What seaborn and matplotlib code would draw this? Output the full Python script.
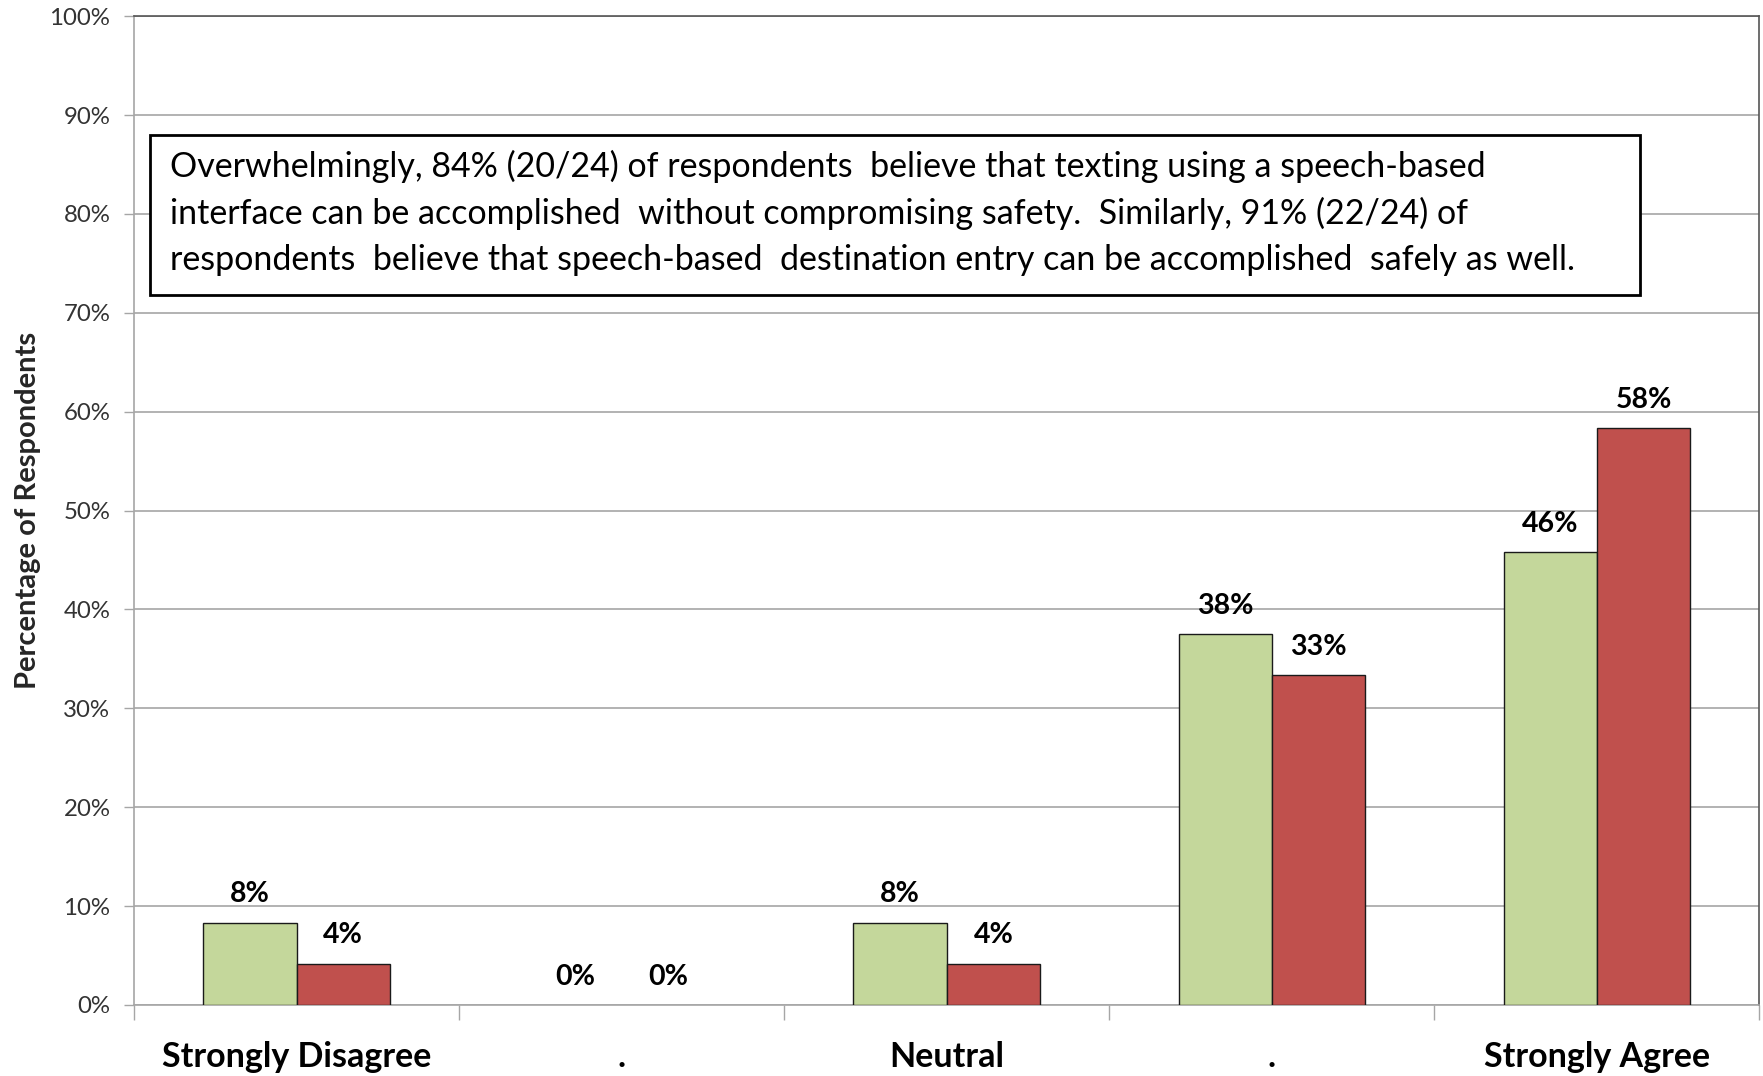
import matplotlib
matplotlib.use("Agg")
import matplotlib.pyplot as plt
import seaborn as sns
import pandas as pd
import numpy as np
from matplotlib.patches import Rectangle

# survey responses (24 respondents)
CATEGORIES = ["Strongly Disagree", "Disagree", "Neutral", "Agree", "Strongly Agree"]
TICK_LABELS = ["Strongly Disagree", ".", "Neutral", ".", "Strongly Agree"]
SERIES = ["Texting", "Destination Entry"]
TEXTING_PCT = [8.33, 0.0, 8.33, 37.5, 45.83]
DEST_ENTRY_PCT = [4.17, 0.0, 4.17, 33.33, 58.33]
Y_TICKS = [0, 10, 20, 30, 40, 50, 60, 70, 80, 90, 100]
NOTE = ("Overwhelmingly, 84% (20/24) of respondents  believe that texting using a speech-based\n"
        "interface can be accomplished  without compromising safety.  Similarly, 91% (22/24) of\n"
        "respondents  believe that speech-based  destination entry can be accomplished  safely as well.")

GREEN = "#C4D79B"
RED = "#C0504D"
GRID = "#A6A6A6"

sns.set_theme(style="white")
plt.rcParams["font.family"] = ["Lato", "DejaVu Sans"]

df = pd.DataFrame({
    "response": CATEGORIES * 2,
    "pct": TEXTING_PCT + DEST_ENTRY_PCT,
    "task": [SERIES[0]] * len(CATEGORIES) + [SERIES[1]] * len(CATEGORIES),
})

fig = plt.figure(figsize=(17.63, 10.76), dpi=100)
ax = fig.add_axes([0.076, 0.066, 0.922, 0.919])

sns.barplot(data=df, x="response", y="pct", hue="task", order=CATEGORIES,
            hue_order=SERIES, palette=[GREEN, RED], width=0.574, saturation=1,
            edgecolor="#1a1a1a", linewidth=1.0, legend=False, ax=ax, zorder=3)

for cont in ax.containers:
    # empty bars have no visible outline in the original
    for bar in cont:
        if bar.get_height() == 0:
            bar.set_linewidth(0)
    ax.bar_label(cont, labels=[f"{v:.0f}%" for v in cont.datavalues],
                 padding=11, fontsize=20.5, fontweight="bold", color="black")

ax.set_ylim(0, 100)
ax.set_xlim(-0.5, len(CATEGORIES) - 0.5)
ax.set_yticks(Y_TICKS)
ax.set_yticklabels([f"{t}%" for t in Y_TICKS], fontsize=17.3, color="#333333")
ax.yaxis.grid(True, color=GRID, linewidth=1.2, zorder=0)
ax.set_axisbelow(True)
ax.tick_params(axis="y", left=True, length=7, width=1, color=GRID, pad=10)

ax.set_xticks(range(len(CATEGORIES)))
ax.set_xticklabels(TICK_LABELS, fontsize=24.5, fontweight="bold", color="black")
ax.set_xticks(np.arange(-0.5, len(CATEGORIES), 1), minor=True)
ax.tick_params(axis="x", which="major", length=0, pad=26)
ax.tick_params(axis="x", which="minor", bottom=True, length=11, width=1, color=GRID)

ax.set_xlabel("")
ax.set_ylabel("Percentage of Respondents", fontsize=21, fontweight="bold")
ax.yaxis.set_label_coords(-0.057, 0.5)

for side in ["left", "bottom", "right", "top"]:
    ax.spines[side].set_visible(True)
    ax.spines[side].set_color(GRID)
    ax.spines[side].set_linewidth(1.2)
ax.spines["top"].set_color("#555555")
ax.spines["right"].set_color("#555555")

ax.add_patch(Rectangle((0.0098, 0.718), 0.917, 0.162, transform=ax.transAxes,
                       facecolor="white", edgecolor="black", linewidth=2, zorder=5))
ax.text(0.0221, 0.801, NOTE, transform=ax.transAxes, fontsize=24.5, va="center",
        ha="left", linespacing=1.52, color="black", zorder=6)

fig.savefig("out.png", dpi=100)
